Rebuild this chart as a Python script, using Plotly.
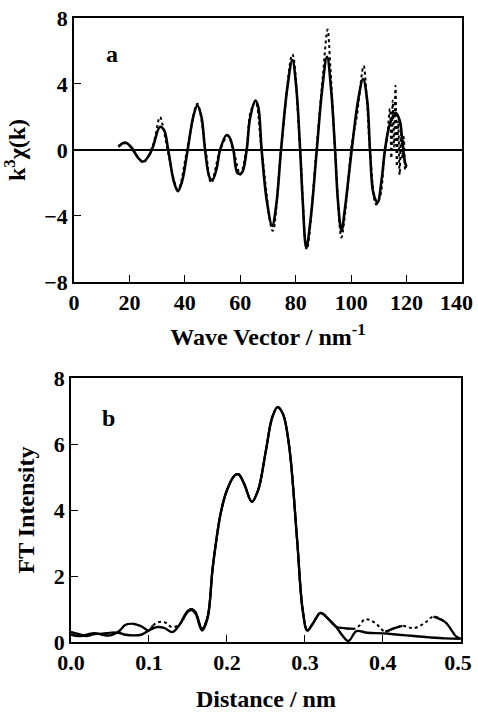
import plotly.graph_objects as go
from plotly.subplots import make_subplots

# panel a: k^3 chi(k), fit (solid) and experiment (dotted)
k_fit = [16, 18.5, 21, 23, 25, 27, 28.5, 31, 32.5, 34, 36, 37.5, 39, 41, 43, 44.5, 46,
         47.3, 49, 50, 51.5, 52.7, 55, 56, 57.5, 59, 60.5, 62.3, 63.5, 65.5, 66.5, 67.7,
         69.5, 71.5, 73, 74.7, 77, 78.8, 80.2, 81.6, 82.5, 83.8, 85.5, 87.6, 89.5, 91.3,
         92.8, 94.2, 95.2, 96.5, 97.8, 100.2, 102.5, 104.3, 105.8, 106.8, 108, 109.5,
         111, 112.2, 114, 116, 117.5, 118.5, 119.5, 120]
chi_fit = [0.2, 0.45, 0.1, -0.45, -0.7, -0.35, 0.2, 1.4, 1.2, 0.0, -1.9, -2.5, -1.9, 0.0,
           2.0, 2.7, 2.0, 0.0, -1.7, -1.8, -1.1, 0.0, 0.9, 0.8, 0.0, -1.4, -1.4, 0.0, 1.9,
           3.0, 2.6, 0.0, -3.0, -4.6, -3.3, 0.0, 3.8, 5.45, 3.8, 0.0, -3.0, -5.95, -4.0,
           0.0, 3.6, 5.65, 3.6, 0.0, -3.0, -4.9, -3.5, 0.0, 3.0, 4.3, 3.0, 0.0, -2.6, -3.2,
           -1.8, 0.0, 1.6, 2.25, 1.8, 0.5, -0.8, -1.0]

k_exp = [16, 19, 22, 25, 28.5, 31, 32, 34, 37.5, 41, 44.5, 47.5, 49.5, 52.7, 55.5, 57.5,
         60, 62.3, 63.7, 65.5, 67.7, 71.7, 74.7, 78.8, 81.6, 84, 87.6, 89.8, 91.5, 92.5,
         94.2, 96.5, 97.5, 100.2, 102, 104.5, 105.5, 106.8, 109, 110.5, 112, 113, 114,
         114.5, 115, 115.5, 116, 116.5, 117, 117.5, 118, 118.5, 119, 119.5, 120]
chi_exp = [0.25, 0.4, -0.2, -0.75, 0.3, 2.0, 1.5, -0.2, -2.4, 0.2, 2.8, 0.0, -2.0, 0.0,
           0.85, 0.0, -1.5, 0.2, 2.3, 2.9, 0.0, -4.9, 0.0, 5.8, 0.0, -6.0, 0.3, 4.5, 7.3,
           5.0, 0.0, -5.3, -4.3, 0.3, 2.0, 5.1, 3.5, 0.0, -3.3, -2.8, -0.3, 0.8, 2.5, -0.5,
           3.0, 0.2, 3.9, -1.0, 1.8, -1.5, 1.0, -0.5, 0.8, -1.2, -0.8]

k_ticks = [0, 20, 40, 60, 80, 100, 120, 140]
k_ticktext = ["0", "20", "40", "60", "80", "100", "120", "140\u00a0\u00a0"]

# panel b: FT magnitude
r_fit = [0, 0.01, 0.02, 0.03, 0.04, 0.05, 0.06, 0.07, 0.08, 0.09, 0.1, 0.11, 0.12, 0.13,
         0.14, 0.15, 0.155, 0.16, 0.168, 0.175, 0.182, 0.192, 0.2, 0.21, 0.215, 0.222,
         0.232, 0.24, 0.25, 0.258, 0.265, 0.272, 0.28, 0.29, 0.297, 0.303, 0.31, 0.32,
         0.33, 0.34, 0.348, 0.356, 0.366, 0.38, 0.4, 0.42, 0.44, 0.46, 0.48, 0.5]
ft_fit = [0.22, 0.18, 0.22, 0.27, 0.22, 0.2, 0.28, 0.22, 0.2, 0.22, 0.35, 0.45, 0.42, 0.3,
          0.55, 0.92, 0.97, 0.85, 0.35, 0.7, 2.3, 3.9, 4.6, 5.05, 5.08, 4.8, 4.25, 4.6,
          5.8, 6.8, 7.12, 6.9, 5.9, 3.1, 1.0, 0.35, 0.55, 0.88, 0.7, 0.46, 0.2, 0.03,
          0.33, 0.28, 0.26, 0.22, 0.18, 0.14, 0.11, 0.1]

r_exp = [0, 0.01, 0.02, 0.03, 0.04, 0.05, 0.06, 0.07, 0.08, 0.09, 0.1, 0.105, 0.112, 0.12,
         0.13, 0.14, 0.15, 0.155, 0.16, 0.168, 0.175, 0.182, 0.192, 0.2, 0.21, 0.215,
         0.222, 0.232, 0.24, 0.25, 0.258, 0.265, 0.272, 0.28, 0.29, 0.297, 0.303, 0.31,
         0.32, 0.33, 0.34, 0.35, 0.363, 0.37, 0.377, 0.39, 0.403, 0.415, 0.425, 0.44,
         0.455, 0.465, 0.48, 0.494, 0.5]
ft_exp = [0.3, 0.24, 0.18, 0.24, 0.25, 0.28, 0.3, 0.52, 0.55, 0.48, 0.35, 0.5, 0.6, 0.6,
          0.45, 0.55, 0.95, 1.0, 0.9, 0.4, 0.75, 2.3, 3.9, 4.6, 5.05, 5.08, 4.8, 4.25, 4.6,
          5.8, 6.8, 7.12, 6.9, 5.9, 3.1, 1.0, 0.35, 0.55, 0.88, 0.7, 0.46, 0.42, 0.4, 0.5,
          0.69, 0.58, 0.31, 0.42, 0.49, 0.42, 0.6, 0.77, 0.6, 0.17, 0.1]
# r ranges where the experimental FT is only seen as dots
exp_dotted = [(0.106, 0.135), (0.366, 0.398), (0.428, 0.462)]

r_ticks = [0, 0.1, 0.2, 0.3, 0.4, 0.5]
r_ticktext = ["0.0", "0.1", "0.2", "0.3", "0.4", "0.5\u00a0"]

ft_exp_solid = [None if any(a < r < b for a, b in exp_dotted) else v
                for r, v in zip(r_exp, ft_exp)]

FONT = "Liberation Serif"

fig = make_subplots(rows=2, cols=1)

fig.add_trace(go.Scatter(x=k_exp, y=chi_exp, mode="lines",
                         line=dict(color="black", width=2, dash="dot", shape="spline")),
              row=1, col=1)
fig.add_trace(go.Scatter(x=k_fit, y=chi_fit, mode="lines",
                         line=dict(color="black", width=2.6, shape="spline")),
              row=1, col=1)

fig.add_trace(go.Scatter(x=r_exp, y=ft_exp, mode="lines",
                         line=dict(color="black", width=2, dash="dot", shape="spline")),
              row=2, col=1)
fig.add_trace(go.Scatter(x=r_exp, y=ft_exp_solid, mode="lines", connectgaps=False,
                         line=dict(color="black", width=2.2, shape="spline")),
              row=2, col=1)
fig.add_trace(go.Scatter(x=r_fit, y=ft_fit, mode="lines",
                         line=dict(color="black", width=2.4, shape="spline")),
              row=2, col=1)

axis_style = dict(showline=True, linecolor="black", linewidth=1.5, mirror=True,
                  ticks="inside", ticklen=7, tickwidth=1.3, tickcolor="black",
                  showgrid=False, zeroline=False, automargin=False,
                  ticklabeloverflow="allow",
                  tickfont=dict(family=FONT, size=22, color="black", weight="bold"))
title_font = dict(family=FONT, size=24, color="black", weight="bold")

fig.update_xaxes(axis_style)
fig.update_yaxes(axis_style)

fig.update_xaxes(range=[0, 140], tickvals=k_ticks, ticktext=k_ticktext,
                 domain=[0.0077, 1],
                 title=dict(text="Wave Vector / nm<sup>-1</sup>", font=title_font, standoff=14),
                 row=1, col=1)
fig.update_yaxes(range=[-8, 8], tickvals=[-8, -4, 0, 4, 8], domain=[0.577, 1],
                 zeroline=True, zerolinecolor="black", zerolinewidth=1.8,
                 title=dict(text="k<sup>3</sup>χ(k)", font=title_font, standoff=12),
                 row=1, col=1)
fig.update_xaxes(range=[0, 0.5], tickvals=r_ticks, ticktext=r_ticktext,
                 domain=[0, 0.997],
                 title=dict(text="Distance / nm", font=title_font, standoff=16),
                 row=2, col=1)
fig.update_yaxes(range=[0, 8], tickvals=[0, 2, 4, 6, 8], domain=[0, 0.423],
                 title=dict(text="FT Intensity", font=title_font, standoff=12),
                 row=2, col=1)

fig.add_annotation(text="a", x=13.7, y=5.8, xref="x", yref="y", showarrow=False,
                   font=title_font)
fig.add_annotation(text="b", x=0.048, y=6.8, xref="x2", yref="y2", showarrow=False,
                   font=title_font)

fig.update_layout(width=478, height=713, showlegend=False,
                  margin=dict(l=71, r=16, t=18, b=71),
                  paper_bgcolor="white", plot_bgcolor="white",
                  font=dict(family=FONT, color="black"))

# drop the default body margin so the figure sits at the page corner
fig.write_html("out.html", config={"displayModeBar": False},
               post_script="document.body.style.margin = '0';")
